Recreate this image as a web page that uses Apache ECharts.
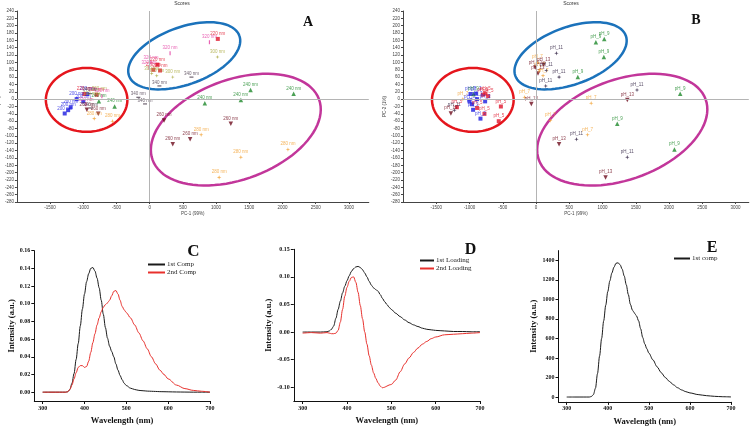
<!DOCTYPE html>
<html><head><meta charset="utf-8">
<script src="https://cdn.jsdelivr.net/npm/echarts@6/dist/echarts.min.js"></script>
<style>html,body{margin:0;padding:0;background:#fff}#c{width:756px;height:430px}</style>
</head><body><div id="c"></div>
<script>
// ---------------- DATA ----------------
// PCA scores (shared by panels A and B)
const pointX = [
  -1280,-1228,-1190,-1100,-940,-1000,
  1026,116,55,156,-800,-985,
  2168,1519,1373,830,-528,-765,
  216,1222,609,347,-775,-946,
  775,2082,1373,1046,-560,-835,
  1021,347,106,30,-760,-886,
  900,307,20,-10,-720,-961,
  629,146,-70,-171,-886,-900
];
const pointY = [
  -39,-30,-22,0,14,-6,
  164,94,80,78,12,14,
  15,25,-2,-11,-20,-6,
  -58,-67,-109,-123,-40,-29,
  -97,-137,-158,-213,-60,-53,
  115,60,64,70,15,0,
  155,125,100,86,8,-14,
  60,36,-13,5,-24,15
];
const pointWl = [
  '200 nm','200 nm','200 nm','200 nm','200 nm','200 nm',
  '220 nm','220 nm','220 nm','220 nm','220 nm','220 nm',
  '240 nm','240 nm','240 nm','240 nm','240 nm','240 nm',
  '260 nm','260 nm','260 nm','260 nm','260 nm','260 nm',
  '280 nm','280 nm','280 nm','280 nm','280 nm','280 nm',
  '300 nm','300 nm','300 nm','300 nm','300 nm','300 nm',
  '320 nm','320 nm','320 nm','320 nm','320 nm','320 nm',
  '340 nm','340 nm','340 nm','340 nm','340 nm','340 nm'
];
const pointPh = [
  'pH_13','pH_11','pH_5','pH_7','pH_9','pH_3',
  'pH_9','pH_13','pH_7','pH_11','pH_5','pH_3',
  'pH_9','pH_11','pH_13','pH_7','pH_5','pH_3',
  'pH_7','pH_9','pH_11','pH_13','pH_5','pH_3',
  'pH_7','pH_9','pH_11','pH_13','pH_5','pH_3',
  'pH_9','pH_11','pH_7','pH_13','pH_5','pH_3',
  'pH_9','pH_11','pH_7','pH_13','pH_5','pH_3',
  'pH_9','pH_11','pH_13','pH_7','pH_5','pH_3'
];
const wavelengths = ['200 nm','220 nm','240 nm','260 nm','280 nm','300 nm','320 nm','340 nm'];
const phLevels = ['pH_3','pH_5','pH_7','pH_9','pH_11','pH_13'];
// cluster ellipses: centre x, centre y, semi-axis (x units), semi-axis (y units), tilt deg
const ellipseCx = [-950, 520, 1297];
const ellipseCy = [-2, 118, -83];
const ellipseA  = [614, 884, 1334];
const ellipseB  = [87, 78, 136];
const ellipseRot = [0, 20, 20];
const scoreTicksX = [-1500,-1000,-500,0,500,1000,1500,2000,2500,3000];
const scoreTicksY = [240,220,200,180,160,140,120,100,80,60,40,20,0,-20,-40,-60,-80,-100,-120,-140,-160,-180,-200,-220,-240,-260,-280];

// spectra
const specWl = [300,320,340,355,360,365,370,375,380,385,390,395,400,405,410,415,420,425,430,435,440,445,450,455,460,465,470,475,480,485,490,495,500,510,520,530,540,550,560,570,580,590,600,620,640,660,680,700];
const comp1 = [0,0,0,0,0.0005,0.003,0.01,0.021,0.037,0.055,0.075,0.094,0.111,0.125,0.134,0.140,0.141,0.137,0.129,0.118,0.104,0.088,0.073,0.061,0.052,0.046,0.040,0.032,0.025,0.019,0.014,0.010,0.0075,0.0045,0.003,0.002,0.0016,0.0012,0.001,0.0008,0.0006,0.0005,0.0004,0.0002,0.0001,0,0,0];
const comp2 = [0,0,0,0,0.0005,0.003,0.008,0.015,0.022,0.028,0.030,0.030,0.028,0.029,0.035,0.045,0.056,0.066,0.076,0.084,0.091,0.096,0.099,0.101,0.104,0.109,0.114,0.115,0.111,0.104,0.097,0.093,0.090,0.084,0.076,0.067,0.058,0.049,0.040,0.032,0.025,0.020,0.015,0.008,0.004,0.002,0.001,0];
const loading1 = [0,0,0,0.0005,0.002,0.005,0.011,0.025,0.041,0.056,0.071,0.083,0.093,0.102,0.110,0.115,0.118,0.119,0.117,0.113,0.107,0.100,0.092,0.085,0.080,0.077,0.074,0.068,0.061,0.055,0.050,0.045,0.041,0.034,0.028,0.022,0.017,0.013,0.010,0.007,0.005,0.004,0.003,0.002,0.001,0.001,0.0005,0.0005];
const loading2 = [-0.002,-0.001,-0.002,-0.001,-0.002,-0.003,-0.003,-0.002,0.003,0.018,0.041,0.065,0.081,0.092,0.099,0.100,0.090,0.072,0.048,0.024,0.000,-0.022,-0.043,-0.060,-0.074,-0.084,-0.092,-0.098,-0.101,-0.100,-0.098,-0.096,-0.095,-0.087,-0.072,-0.058,-0.047,-0.037,-0.029,-0.022,-0.017,-0.012,-0.009,-0.005,-0.004,-0.003,-0.002,-0.001];
const compE = [0,0,0,0,5,25,90,240,420,600,780,940,1080,1190,1270,1330,1370,1375,1355,1310,1240,1150,1050,950,890,860,830,780,700,610,545,495,450,380,310,250,200,160,125,95,72,55,42,25,14,7,3,1];
const cTicksY = [0,0.02,0.04,0.06,0.08,0.10,0.12,0.14,0.16];
const dTicksY = [-0.10,-0.05,0,0.05,0.10,0.15];
const eTicksY = [0,200,400,600,800,1000,1200,1400];
const specTicksX = [300,400,500,600,700];

// ---------------- STYLES ----------------
const DOWN = 'path://M0,0L10,0L5,9Z';
const STAR = 'path://M5,0L6.2,3.8L10,5L6.2,6.2L5,10L3.8,6.2L0,5L3.8,3.8Z';
const wlStyle = {
  '200 nm':{color:'#1c1ce0', sym:'rect', size:4},
  '220 nm':{color:'#e0142a', sym:'rect', size:4},
  '240 nm':{color:'#1f8a2c', sym:'triangle', size:4.5},
  '260 nm':{color:'#6e0c1e', sym:DOWN, size:4.5},
  '280 nm':{color:'#f2a234', sym:STAR, size:4.5},
  '300 nm':{color:'#a9a83c', sym:STAR, size:4},
  '320 nm':{color:'#e43ca3', sym:'path://M0,0L2,0L2,10L0,10Z', size:[1.2,4]},
  '340 nm':{color:'#4a3b4c', sym:'path://M0,0L10,0L10,2L0,2Z', size:[4,1.2]}
};
const phStyle = {
  'pH_3':{color:'#1c1ce0', sym:'rect', size:4},
  'pH_5':{color:'#e0142a', sym:'rect', size:4},
  'pH_7':{color:'#f2a234', sym:STAR, size:4.5},
  'pH_9':{color:'#1f8a2c', sym:'triangle', size:4.5},
  'pH_11':{color:'#2b1b3d', sym:STAR, size:4.5},
  'pH_13':{color:'#6e0c1e', sym:DOWN, size:4.5}
};
const ellipseColors = ['#e5161d', '#1b72bb', '#c2369a'];
const serif = 'Liberation Serif';
const sans = 'Liberation Sans';

function scoreSeries(keyArr, groups, styles, gi) {
  const out = groups.map(g => ({
    type:'scatter', name:(gi ? 'B ' : 'A ') + g, xAxisIndex:gi, yAxisIndex:gi,
    symbol: styles[g].sym, symbolSize: styles[g].size, z:3,
    itemStyle:{color: styles[g].color},
    label:{show:true, formatter:'{b}', position:'top', distance:0.5, fontSize:4.5,
           color: styles[g].color, fontFamily: sans},
    data: pointX.map((x,i)=>i).filter(i=>keyArr[i]===g)
            .map(i=>({name:keyArr[i], value:[pointX[i], pointY[i]]}))
  }));
  out.push({
    type:'custom', xAxisIndex:gi, yAxisIndex:gi, z:2, silent:true,
    encode:{x:0, y:1},
    data: ellipseCx.map((c,i)=>[c, ellipseCy[i], ellipseA[i], ellipseB[i], ellipseRot[i], i]),
    renderItem: function(params, api) {
      const c = api.coord([api.value(0), api.value(1)]);
      const s = api.size([api.value(2), api.value(3)]);
      const r = api.value(4) * Math.PI / 180;
      const pts = [];
      for (let k = 0; k <= 90; k++) {
        const t = k / 90 * 2 * Math.PI;
        const ex = s[0] * Math.cos(t), ey = s[1] * Math.sin(t);
        pts.push([c[0] + ex * Math.cos(r) + ey * Math.sin(r), c[1] - ex * Math.sin(r) + ey * Math.cos(r)]);
      }
      return {type:'polyline', shape:{points:pts}, style:{stroke: ellipseColors[api.value(5)], lineWidth:2.5, fill:null}};
    },
    markLine:{silent:true, symbol:['none','none'], label:{show:false}, animation:false,
      lineStyle:{color:'#b4b4b4', type:'solid', width:1},
      data:[{xAxis:0},{yAxis:0}]}
  });
  return out;
}

function scoreXAxis(gi, max) {
  return {gridIndex:gi, type:'value', min:-2000, max:max,
    axisLine:{show:true, onZero:false, lineStyle:{color:'#444', width:1}},
    axisTick:{show:true, customValues:scoreTicksX, length:2, lineStyle:{color:'#444'}},
    axisLabel:{customValues:scoreTicksX, fontSize:4.5, margin:3, color:'#444', fontFamily:sans,
      formatter: v => String(Math.round(v))},
    splitLine:{show:false},
    name:'PC-1 (99%)', nameLocation:'middle', nameGap:9,
    nameTextStyle:{fontSize:4.5, color:'#444', fontFamily:sans}};
}
function scoreYAxis(gi) {
  return {gridIndex:gi, type:'value', min:-280, max:240,
    axisLine:{show:true, onZero:false, lineStyle:{color:'#444', width:1}},
    axisTick:{show:true, customValues:scoreTicksY, length:2, lineStyle:{color:'#444'}},
    axisLabel:{customValues:scoreTicksY, fontSize:4.5, margin:3, color:'#444', fontFamily:sans,
      formatter: v => String(Math.round(v))},
    splitLine:{show:false},
    name:'PC-2 (1%)', nameLocation:'middle', nameGap:11, nameRotate:90,
    nameTextStyle:{fontSize:4.5, color:'#444', fontFamily:sans}};
}
function specXAxis(gi) {
  return {gridIndex:gi, type:'value', min:280, max:700,
    axisLine:{show:true, onZero:false, lineStyle:{color:'#111', width:1}},
    axisTick:{show:true, customValues:specTicksX, length:3, lineStyle:{color:'#111'}},
    axisLabel:{customValues:specTicksX, fontSize:6, margin:4, color:'#111', fontFamily:serif, fontWeight:'bold',
      formatter: v => String(Math.round(v))},
    splitLine:{show:false},
    name:'Wavelength (nm)', nameLocation:'middle', nameGap:15,
    nameTextStyle:{fontSize:8.5, color:'#111', fontFamily:serif, fontWeight:'bold'}};
}
function specYAxis(gi, min, max, ticks, digits, gap) {
  return {gridIndex:gi, type:'value', min:min, max:max,
    axisLine:{show:true, onZero:false, lineStyle:{color:'#111', width:1}},
    axisTick:{show:true, customValues:ticks, length:3, lineStyle:{color:'#111'}},
    axisLabel:{customValues:ticks, fontSize:6, margin:4, color:'#111', fontFamily:serif, fontWeight:'bold',
      formatter: v => digits ? Number(v).toFixed(digits) : String(Math.round(v))},
    splitLine:{show:false},
    name:'Intensity (a.u.)', nameLocation:'middle', nameGap:gap, nameRotate:90,
    nameTextStyle:{fontSize:8.5, color:'#111', fontFamily:serif, fontWeight:'bold'}};
}
function specLine(name, gi, vals, color) {
  return {type:'line', name:name, xAxisIndex:gi, yAxisIndex:gi, symbol:'none', showSymbol:false,
    smooth:0.3, smoothMonotone:'x', lineStyle:{color:color, width:1}, itemStyle:{color:color},
    data: specWl.map((w,i)=>[w, vals[i]])};
}
function legend(left, top, items, w) {
  return {left:left, top:top, orient:'vertical', itemWidth:w, itemHeight:8, itemGap:1, padding:0,
    itemStyle:{opacity:0, borderWidth:0},
    data:items, textStyle:{fontFamily:serif, fontSize:7, color:'#222', padding:[0,0,0,-3]}};
}
function txt(x, y, s, size, font, weight, color) {
  return {type:'text', x:x, y:y, silent:true,
    style:{text:s, fontSize:size, fontFamily:font, fontWeight:weight, fill:color, textAlign:'center', textVerticalAlign:'middle'}};
}

const chart = echarts.init(document.getElementById('c'), null, {renderer:'canvas'});
chart.setOption({
  animation:false,
  backgroundColor:'#fff',
  grid:[
    {left:16.9, top:11, width:351.9, height:191, outerBoundsMode:'none', containLabel:false},
    {left:403, top:11, width:345.8, height:191, outerBoundsMode:'none', containLabel:false},
    {left:34.3, top:250.7, width:175.7, height:150.3, outerBoundsMode:'none', containLabel:false},
    {left:293.8, top:249.3, width:186.2, height:151.7, outerBoundsMode:'none', containLabel:false},
    {left:558.5, top:250.6, width:172.5, height:151.3, outerBoundsMode:'none', containLabel:false}
  ],
  xAxis:[scoreXAxis(0,3300), scoreXAxis(1,3200), specXAxis(2), specXAxis(3), specXAxis(4)],
  yAxis:[scoreYAxis(0), scoreYAxis(1),
    specYAxis(2, -0.01, 0.16, cTicksY, 2, 15.5),
    specYAxis(3, -0.125, 0.15, dTicksY, 2, 16.5),
    specYAxis(4, -50, 1500, eTicksY, 0, 16)],
  legend:[
    legend(147, 261, ['1st Comp','2nd Comp'], 17),
    legend(419, 257, ['1st Loading','2nd Loading'], 14),
    legend(673, 255, ['1st comp'], 16)
  ],
  graphic:[
    txt(182, 3.5, 'Scores', 5, sans, 'normal', '#333'),
    txt(571, 3.5, 'Scores', 5, sans, 'normal', '#333'),
    txt(308, 22, 'A', 14, serif, 'bold', '#111'),
    txt(696, 20.5, 'B', 14, serif, 'bold', '#111'),
    txt(193.5, 251.5, 'C', 17, serif, 'bold', '#111'),
    txt(470.5, 249.5, 'D', 16, serif, 'bold', '#111'),
    txt(712, 247.5, 'E', 16, serif, 'bold', '#111')
  ],
  series:[].concat(
    scoreSeries(pointWl, wavelengths, wlStyle, 0),
    scoreSeries(pointPh, phLevels, phStyle, 1),
    [specLine('1st Comp', 2, comp1, '#1a1a1a'), specLine('2nd Comp', 2, comp2, '#e8302c'),
     specLine('1st Loading', 3, loading1, '#1a1a1a'), specLine('2nd Loading', 3, loading2, '#e8302c'),
     specLine('1st comp', 4, compE, '#1a1a1a')]
  )
});
</script></body></html>
